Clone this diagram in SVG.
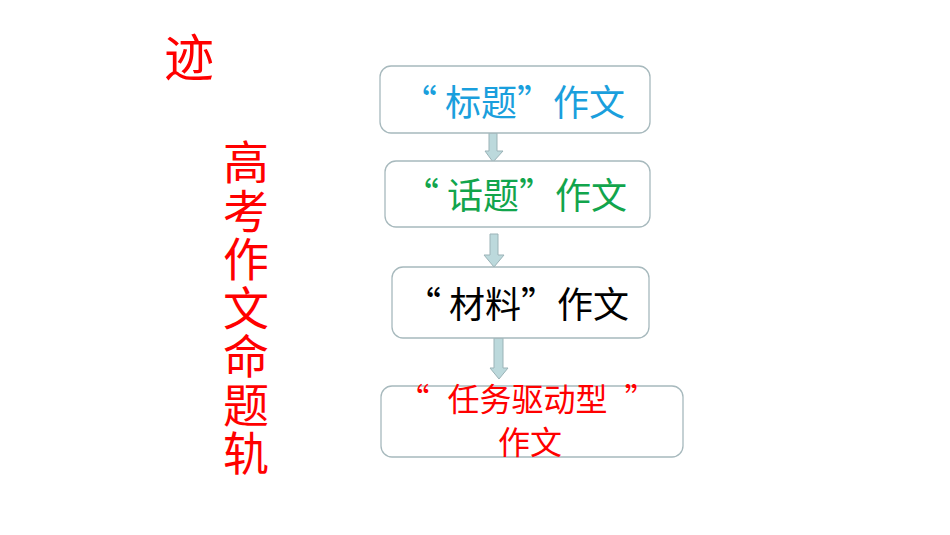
<svg xmlns="http://www.w3.org/2000/svg" width="950" height="535" viewBox="0 0 950 535">
<style>
.box{fill:#ffffff;stroke:#a7b9bd;stroke-width:1.3}
.arr{fill:#bcd9dc;stroke:#9bb3b7;stroke-width:1}
.t{font-family:"Noto Sans CJK SC","Noto Sans",sans-serif;text-anchor:middle}
.red{fill:#ff0000}
</style>
<rect width="950" height="535" fill="#ffffff"/>
<text class="t red" x="189" y="76" font-size="50">迹</text>
<text class="t red" x="246" y="139" font-size="46" style="writing-mode:vertical-rl;text-anchor:start" letter-spacing="2.5">高考作文命题轨</text>
<g id="connectors">
<polygon class="arr" points="489,133 497,133 497,151 503,151 493,162 485,151 489,151"/>
<polygon class="arr" points="490,234 498,234 498,255 504,255 494,267 484,255 490,255"/>
<polygon class="arr" points="494,338 503,338 503,368 508,368 499,379 490,368 494,368"/>
</g>
<g id="n1">
<rect class="box" x="380" y="66" width="270" height="67" rx="11"/>
<text class="t" x="513" y="116" font-size="36" fill="#1a9fdd">“ 标题”作文</text>
</g>
<g id="n2">
<rect class="box" x="385" y="161" width="265" height="66" rx="11"/>
<text class="t" x="515" y="209" font-size="36" fill="#12a54c">“ 话题”作文</text>
</g>
<g id="n3">
<rect class="box" x="392" y="267" width="257" height="71" rx="11"/>
<text class="t" x="517" y="318" font-size="36" fill="#000000">“ 材料”作文</text>
</g>
<g id="n4">
<rect class="box" x="381" y="386" width="302" height="71" rx="11"/>
<text class="t red" x="527" y="411" font-size="32">“ <tspan dx="11">任务驱动型</tspan><tspan dx="17">”</tspan></text>
<text class="t red" x="530" y="454" font-size="32">作文</text>
</g>
</svg>
